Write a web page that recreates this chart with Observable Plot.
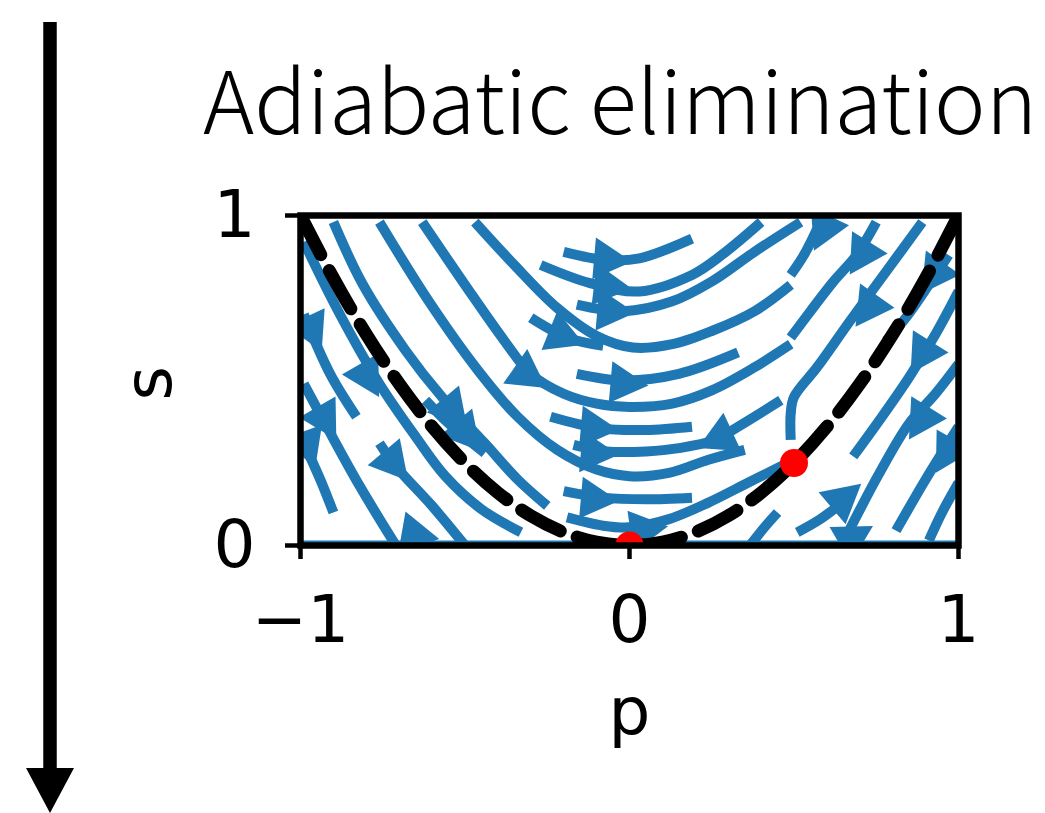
<!DOCTYPE html>
<html><head><meta charset="utf-8">
<script src="https://cdn.jsdelivr.net/npm/d3@7"></script>
<script src="https://cdn.jsdelivr.net/npm/@observablehq/plot@0.6"></script>
<style>
html,body{margin:0;padding:0;background:#fff;}
#wrap{position:relative;width:1045px;height:813px;overflow:hidden;background:#fff;}
#wrap svg{position:absolute;left:0;top:0;}
#chart [aria-label*="axis"] line, #chart [aria-label*="axis"] path{stroke-width:4.5px;}
</style></head>
<body>
<div id="wrap"><div id="chart"></div>
<svg id="overlay" width="1045" height="813" style="pointer-events:none">
  <line x1="50" y1="22" x2="50" y2="772" stroke="black" stroke-width="13.5"/>
  <polygon points="26,768 74,768 50,813" fill="black"/>
  <text x="203" y="134" font-family="'Noto Sans CJK JP','Noto Sans',sans-serif" font-weight="200" font-size="87" fill="black">Adiabatic elimination</text>
</svg>
</div>
<script>
// ---- data ----
const xTicks = [-1, 0, 1];
const yTicks = [0, 1];
const xLabel = "p";
const yLabel = "s";

// slow manifold (dashed)
const manifoldP = [-1, -0.9, -0.8, -0.7, -0.6, -0.5, -0.4, -0.3, -0.2, -0.1, 0, 0.1, 0.2, 0.3, 0.4, 0.5, 0.6, 0.7, 0.8, 0.9, 1];
const manifoldS = [1, 0.81, 0.64, 0.49, 0.36, 0.25, 0.16, 0.09, 0.04, 0.01, 0, 0.01, 0.04, 0.09, 0.16, 0.25, 0.36, 0.49, 0.64, 0.81, 1];

// fixed points
const fixedP = [0, 0.5];
const fixedS = [0, 0.25];

// streamlines, each a list of [p, s]
const leftStreams = [
  [[-0.99,0.92],[-0.88,0.70],[-0.76,0.49],[-0.65,0.33],[-0.56,0.21],[-0.45,0.11],[-0.33,0.04]],
  [[-0.99,0.70],[-0.91,0.52],[-0.83,0.39]],
  [[-0.99,0.49],[-0.92,0.36],[-0.82,0.18],[-0.71,0.0]],
  [[-0.99,0.31],[-0.94,0.20],[-0.90,0.10]],
  [[-0.76,0.31],[-0.71,0.24],[-0.60,0.12],[-0.50,0.0]],
  [[-0.90,0.98],[-0.81,0.79],[-0.68,0.59],[-0.57,0.45],[-0.44,0.31],[-0.34,0.20],[-0.25,0.12]],
  [[-0.62,0.44],[-0.55,0.37],[-0.49,0.32],[-0.44,0.28]]
];
const centreStreams = [
  [[-0.63,0.98],[-0.50,0.79],[-0.38,0.62],[-0.30,0.52],[-0.20,0.46],[-0.10,0.43],[0.0,0.42],[0.13,0.43],[0.25,0.47],[0.38,0.54],[0.49,0.61]],
  [[0.49,0.63],[0.55,0.71],[0.62,0.80],[0.69,0.88],[0.75,0.98]],
  [[-0.47,0.98],[-0.35,0.85],[-0.22,0.72],[-0.10,0.635],[0.01,0.60],[0.13,0.61],[0.25,0.65],[0.38,0.71],[0.49,0.79]],
  [[0.49,0.82],[0.53,0.88],[0.58,0.98]],
  [[-0.30,0.69],[-0.19,0.63],[-0.08,0.605]],
  [[-0.76,0.98],[-0.61,0.74],[-0.46,0.53],[-0.34,0.39],[-0.22,0.29],[-0.10,0.23],[0.0,0.21],[0.12,0.22],[0.24,0.26],[0.35,0.29]],
  [[-0.20,0.89],[-0.07,0.865],[0.03,0.87],[0.19,0.93]],
  [[-0.27,0.85],[-0.12,0.795],[0.03,0.77],[0.19,0.82],[0.28,0.88],[0.40,0.98]],
  [[-0.16,0.73],[-0.02,0.71],[0.13,0.74],[0.25,0.80],[0.38,0.89],[0.52,0.98]],
  [[-0.16,0.52],[-0.02,0.50],[0.15,0.52],[0.33,0.585]],
  [[-0.24,0.39],[-0.09,0.355],[0.05,0.35],[0.19,0.36]],
  [[-0.17,0.305],[-0.07,0.285],[0.05,0.285],[0.15,0.295],[0.26,0.32],[0.33,0.36],[0.46,0.44]],
  [[-0.20,0.165],[-0.08,0.145],[0.05,0.14],[0.19,0.145]],
  [[-0.19,0.085],[-0.08,0.06],[0.0,0.055],[0.12,0.08],[0.24,0.13],[0.36,0.19],[0.47,0.245]]
];
const rightStreams = [
  [[0.89,0.98],[0.78,0.83],[0.67,0.68],[0.57,0.54],[0.50,0.45],[0.49,0.40],[0.49,0.32]],
  [[0.97,0.88],[0.91,0.79],[0.84,0.69],[0.78,0.62]],
  [[1.0,0.77],[0.93,0.64],[0.85,0.51],[0.76,0.38],[0.68,0.27]],
  [[1.0,0.55],[0.93,0.46],[0.85,0.37],[0.76,0.22],[0.67,0.05]],
  [[1.0,0.36],[0.90,0.20],[0.81,0.045]],
  [[1.0,0.19],[0.95,0.10],[0.91,0.015]],
  [[0.51,0.04],[0.58,0.08],[0.66,0.14]],
  [[0.45,0.10],[0.41,0.055],[0.37,0.005]],
  [[-1,0],[1,0]]
];

// arrow heads: [p, s, direction in degrees clockwise from up]
const arrowHeads = [
  [-0.79,0.50,150],[-0.96,0.64,155],[-0.92,0.37,150],[-0.975,0.29,160],[-0.71,0.24,140],
  [-0.635,0.03,100],[-0.53,0.40,140],[-0.49,0.33,140],[-0.30,0.51,125],[-0.19,0.63,112],
  [-0.05,0.865,95],[-0.05,0.785,97],[-0.04,0.71,95],[0.0,0.49,95],[-0.09,0.355,95],
  [-0.09,0.28,95],[-0.09,0.14,95],[0.06,0.05,82],
  [0.26,0.32,245],[0.585,0.945,205],[0.70,0.87,212],[0.72,0.71,215],[0.92,0.81,215],
  [0.885,0.57,212],[0.88,0.37,212],[0.96,0.27,210],[0.66,0.15,50],[0.69,0.03,60]
];

// ---- build ----
const blue = "#1f77b4";
const streamRows = [...leftStreams, ...centreStreams, ...rightStreams]
  .flatMap((pts, i) => pts.map(([p, s]) => ({i, p, s})));
const manifold = manifoldP.map((p, i) => ({p, s: manifoldS[i]}));
const fixed = fixedP.map((p, i) => ({p, s: fixedS[i]}));
const heads = arrowHeads.map(([p, s, a]) => ({p, s, a}));
const fmt = d => d < 0 ? "\u2212" + Math.abs(d) : String(d);

const tri = {draw(context, l) {
  context.moveTo(-21, l / 2);
  context.lineTo(0, -l / 2);
  context.lineTo(21, l / 2);
  context.closePath();
}};
const headMark = (typeof Plot.spike === "function")
  ? Plot.vector(heads, {x: "p", y: "s", rotate: "a", length: 38, anchor: "start", shape: tri, fill: blue, stroke: "none", clip: true})
  : Plot.text(heads, {x: "p", y: "s", text: () => "\u25B2", rotate: "a", fontSize: 48, fill: blue, clip: true});

const chart = Plot.plot({
  width: 1045,
  height: 813,
  marginLeft: 300,
  marginRight: 87,
  marginTop: 215,
  marginBottom: 268,
  style: {fontSize: "66px", fontFamily: "'DejaVu Sans', sans-serif", background: "transparent", color: "black"},
  x: {domain: [-1, 1], ticks: xTicks, tickFormat: fmt, tickSize: 14, tickPadding: 36, label: null},
  y: {domain: [0, 1], ticks: yTicks, tickFormat: fmt, tickSize: 15, tickPadding: 30, label: null},
  marks: [
    Plot.line(streamRows, {x: "p", y: "s", z: "i", stroke: blue, strokeWidth: 10, curve: "catmull-rom", strokeLinecap: "butt", clip: true}),
    headMark,
    Plot.line(manifold, {x: "p", y: "s", stroke: "black", strokeWidth: 13, strokeDasharray: "44,18", curve: "natural", clip: true}),
    Plot.dot(fixed, {x: "p", y: "s", r: 14, fill: "red", stroke: "none", clip: true}),
    Plot.frame({stroke: "black", strokeWidth: 6.5}),
    Plot.text([xLabel], {frameAnchor: "bottom", dy: 188, fontSize: 66}),
    Plot.text([yLabel], {frameAnchor: "left", dx: -151, dy: 20, rotate: -90, fontSize: 66})
  ]
});
document.getElementById("chart").appendChild(chart);
</script>
</body></html>
